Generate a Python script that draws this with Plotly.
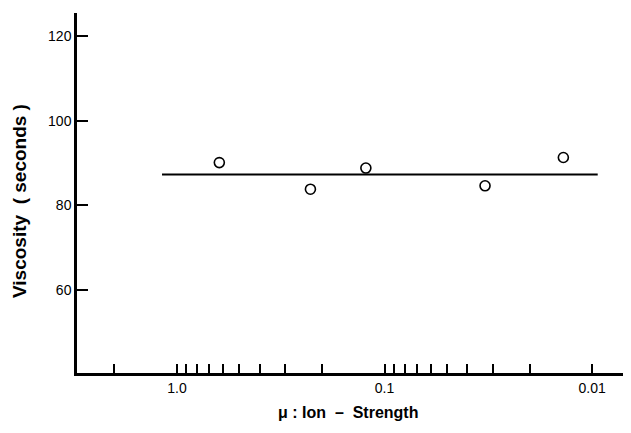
import math
import plotly.graph_objects as go

# Data
ion_strength = [0.625, 0.2275, 0.123, 0.0328, 0.01376]
viscosity = [90.1, 83.8, 88.8, 84.6, 91.3]
fit_x = [1.18, 0.0094]
fit_y = [87.3, 87.3]

x_tickvals = [2.0, 1.0, 0.9, 0.8, 0.7, 0.6, 0.5, 0.4, 0.3, 0.2,
              0.1, 0.09, 0.08, 0.07, 0.06, 0.05, 0.04, 0.03, 0.02, 0.01]
x_ticktext = ["", "1.0", "", "", "", "", "", "", "", "",
              "0.1", "", "", "", "", "", "", "", "", "0.01"]
y_tickvals = [60, 80, 100, 120]
y_ticktext = ["60", "80", "100", "120"]

x_range = [math.log10(3.03), math.log10(0.00657)]
y_range = [40.3, 125.5]

fig = go.Figure()
fig.add_trace(go.Scatter(
    x=fit_x, y=fit_y, mode="lines",
    line=dict(color="black", width=2), showlegend=False, hoverinfo="skip"))
fig.add_trace(go.Scatter(
    x=ion_strength, y=viscosity, mode="markers",
    marker=dict(symbol="circle-open", size=10, color="black", line=dict(width=1.6)),
    showlegend=False))

font_family = "Liberation Sans, Arial, sans-serif"

# The page body adds an 8px offset; the figure is sized to fit the window.
fig.update_layout(
    width=623, height=425,
    margin=dict(l=69, r=1, t=5, b=60),
    paper_bgcolor="white", plot_bgcolor="white",
    font=dict(family=font_family, color="black", size=14),
    xaxis=dict(
        type="log", range=x_range,
        tickmode="array", tickvals=x_tickvals, ticktext=x_ticktext,
        ticks="inside", ticklen=9, tickwidth=1.5, tickcolor="black",
        showline=True, linecolor="black", linewidth=2.5,
        showgrid=False, zeroline=False,
        tickfont=dict(size=14),
    ),
    yaxis=dict(
        range=y_range,
        tickmode="array", tickvals=y_tickvals, ticktext=y_ticktext,
        ticks="inside", ticklen=11, tickwidth=1.5, tickcolor="black",
        showline=True, linecolor="black", linewidth=2.5,
        showgrid=False, zeroline=False,
        tickfont=dict(size=14),
    ),
    annotations=[
        dict(text="<b>μ : Ion  –  Strength</b>", xref="paper", yref="paper",
             x=(348 - 77) / 553, y=-(412.7 - 373) / 360,
             xanchor="center", yanchor="middle", showarrow=False,
             font=dict(size=16, family=font_family)),
        dict(text="<b>Viscosity  ( seconds )</b>", xref="paper", yref="paper",
             x=(20 - 77) / 553, y=(373 - 201) / 360,
             xanchor="center", yanchor="middle", showarrow=False, textangle=-90,
             font=dict(size=19, family=font_family)),
    ],
)

fig.write_html("out.html")
